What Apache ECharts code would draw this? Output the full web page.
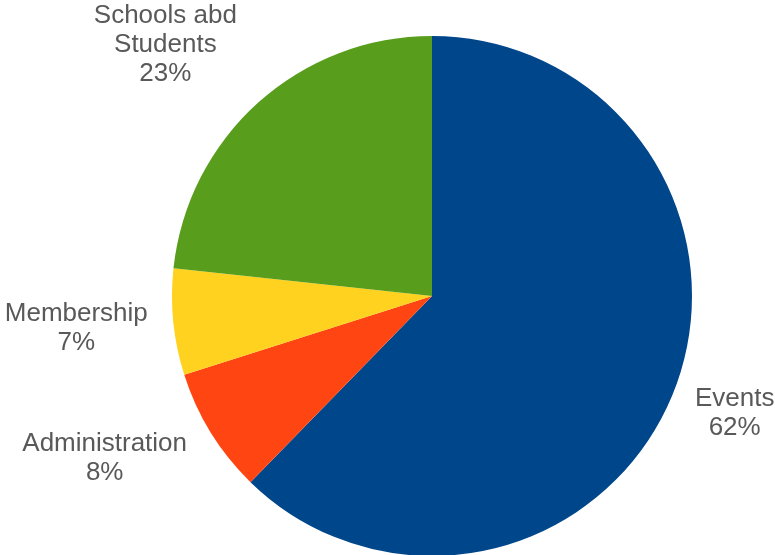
<html>
    <head>
        <meta charset="UTF-8" />
        <script src="https://cdn.jsdelivr.net/npm/echarts@6/dist/echarts.min.js"></script>
        <style>
            body { margin: 0; background: #ffffff; }
        </style>
    </head>
    <body>
        <div id="container" style="width: 775px; height: 555px;"></div>
        <script>
            // slice names and shares (percent), clockwise from 12 o'clock
            var categories = ['Events', 'Administration', 'Membership', 'Schools abd\nStudents'];
            var shares = [62.3, 7.8, 6.6, 23.3];
            var colors = ['#00468A', '#FF4612', '#FFD21F', '#589E1C'];

            var pieCenter = [432, 296];
            var pieRadius = 260;
            var labelGap = 27;
            // small hand nudges for the label boxes (px)
            var labelNudge = [[0, -2], [-13, -4], [1, 1], [-27, -5]];

            var data = [];
            for (var i = 0; i < categories.length; i++) {
                data.push({ name: categories[i], value: shares[i], itemStyle: { color: colors[i] } });
            }

            // mid angle of each slice, clockwise from top
            var total = shares.reduce(function (a, b) { return a + b; }, 0);
            var midAngles = [];
            var acc = 0;
            for (var j = 0; j < shares.length; j++) {
                midAngles.push((acc + shares[j] / 2) / total * Math.PI * 2);
                acc += shares[j];
            }

            var chart = echarts.init(document.getElementById('container'));
            chart.setOption({
                animation: false,
                series: [{
                    type: 'pie',
                    center: pieCenter,
                    radius: [0, pieRadius],
                    startAngle: 90,
                    clockwise: true,
                    data: data,
                    itemStyle: { borderWidth: 0 },
                    label: {
                        show: true,
                        position: 'outside',
                        overflow: 'none',
                        color: '#595959',
                        fontFamily: 'Liberation Sans, Arial, sans-serif',
                        fontSize: 26,
                        lineHeight: 29,
                        align: 'center',
                        formatter: function (p) {
                            return p.name + '\n' + Math.round(p.percent) + '%';
                        }
                    },
                    labelLine: { show: false },
                    labelLayout: function (params) {
                        var k = params.dataIndex;
                        var ux = Math.sin(midAngles[k]);
                        var uy = -Math.cos(midAngles[k]);
                        var w = params.labelRect.width;
                        var h = params.labelRect.height;
                        var d = pieRadius + labelGap;
                        return {
                            x: pieCenter[0] + d * ux + ux * w / 2 + labelNudge[k][0],
                            y: pieCenter[1] + d * uy + uy * h / 2 + labelNudge[k][1],
                            align: 'center',
                            verticalAlign: 'middle'
                        };
                    },
                    emphasis: { disabled: true }
                }]
            });
        </script>
    </body>
</html>
